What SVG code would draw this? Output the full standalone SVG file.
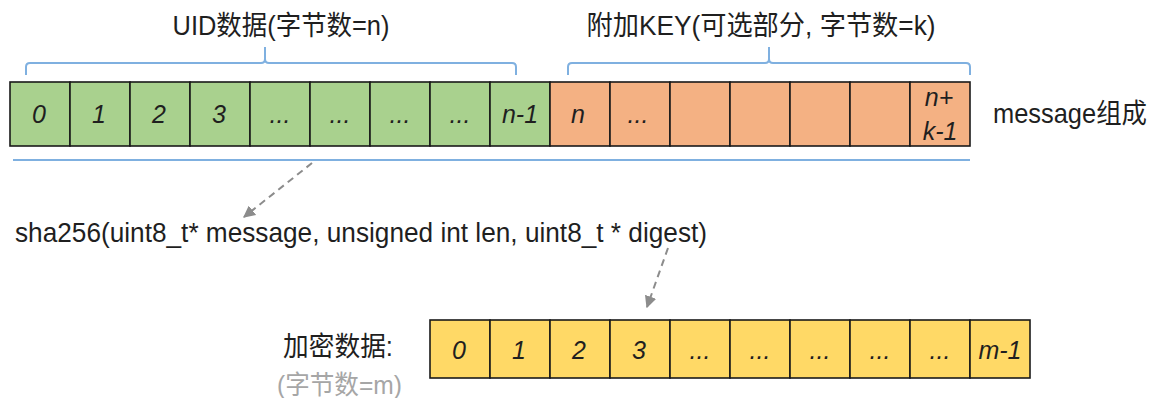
<svg xmlns="http://www.w3.org/2000/svg" width="1158" height="398" viewBox="0 0 1158 398">
<defs>
<style>
.g{fill:#a9d18e;stroke:#1a1a1a;stroke-width:1.6}
.o{fill:#f4b183;stroke:#1a1a1a;stroke-width:1.6}
.y{fill:#ffd966;stroke:#1a1a1a;stroke-width:1.6}
.c{font-family:"Liberation Sans","Noto Sans CJK SC",sans-serif;font-size:25px;font-style:italic;fill:#1f1f1f;text-anchor:middle}
.t{font-family:"Liberation Sans","Noto Sans CJK SC",sans-serif;font-size:27.5px;fill:#1f1f1f}
.br{fill:none;stroke:#7fb0e0;stroke-width:2}
.ar{fill:none;stroke:#8c8c8c;stroke-width:2;stroke-dasharray:7 5}
</style>
<marker id="ah" viewBox="0 0 10 10" refX="9" refY="5" markerWidth="6" markerHeight="6" orient="auto" markerUnits="strokeWidth">
<path d="M0,0 L10,5 L0,10 Z" fill="#8c8c8c"/>
</marker>
</defs>
<rect width="1158" height="398" fill="#ffffff"/>

<g id="labels">
<text class="t" x="281" y="35" text-anchor="middle" textLength="217" lengthAdjust="spacingAndGlyphs">UID数据(字节数=n)</text>
<text class="t" x="761" y="35" text-anchor="middle" textLength="349" lengthAdjust="spacingAndGlyphs">附加KEY(可选部分, 字节数=k)</text>
<text class="t" x="993" y="123" textLength="154" lengthAdjust="spacingAndGlyphs">message组成</text>
<text class="t" x="15" y="242" textLength="692" lengthAdjust="spacingAndGlyphs">sha256(uint8_t* message, unsigned int len, uint8_t * digest)</text>
<text class="t" x="283" y="356" textLength="110" lengthAdjust="spacingAndGlyphs">加密数据:</text>
<text class="t" x="277" y="394" style="fill:#a6a6a6;font-size:26px" textLength="125" lengthAdjust="spacingAndGlyphs">(字节数=m)</text>
</g>

<g id="brackets">
<path class="br" d="M26,75 V67 Q26,63 30,63 H261 Q265,63 265,59 V47 M265,59 Q265,63 269,63 H512 Q516,63 516,67 V75"/>
<path class="br" d="M568,75 V67 Q568,63 572,63 H765 Q769,63 769,59 V47 M769,59 Q769,63 773,63 H966 Q970,63 970,67 V75"/>
<line class="br" x1="13" y1="160" x2="970" y2="160"/>
</g>

<g id="message">
<g id="m0"><rect class="g" x="10" y="82" width="60" height="64"/><text class="c" x="39" y="123">0</text></g>
<g id="m1"><rect class="g" x="70" y="82" width="60" height="64"/><text class="c" x="99" y="123">1</text></g>
<g id="m2"><rect class="g" x="130" y="82" width="60" height="64"/><text class="c" x="159" y="123">2</text></g>
<g id="m3"><rect class="g" x="190" y="82" width="60" height="64"/><text class="c" x="219" y="123">3</text></g>
<g id="m4"><rect class="g" x="250" y="82" width="60" height="64"/><text class="c" x="280" y="123">...</text></g>
<g id="m5"><rect class="g" x="310" y="82" width="60" height="64"/><text class="c" x="340" y="123">...</text></g>
<g id="m6"><rect class="g" x="370" y="82" width="60" height="64"/><text class="c" x="400" y="123">...</text></g>
<g id="m7"><rect class="g" x="430" y="82" width="60" height="64"/><text class="c" x="460" y="123">...</text></g>
<g id="m8"><rect class="g" x="490" y="82" width="60" height="64"/><text class="c" x="520" y="123">n-1</text></g>
<g id="k0"><rect class="o" x="550" y="82" width="60" height="64"/><text class="c" x="578" y="123">n</text></g>
<g id="k1"><rect class="o" x="610" y="82" width="60" height="64"/><text class="c" x="638" y="123">...</text></g>
<g id="k2"><rect class="o" x="670" y="82" width="60" height="64"/></g>
<g id="k3"><rect class="o" x="730" y="82" width="60" height="64"/></g>
<g id="k4"><rect class="o" x="790" y="82" width="60" height="64"/></g>
<g id="k5"><rect class="o" x="850" y="82" width="60" height="64"/></g>
<g id="k6"><rect class="o" x="910" y="82" width="60" height="64"/><text class="c" x="939" y="106">n+</text><text class="c" x="940" y="140">k-1</text></g>
</g>

<g id="digest">
<g id="d0"><rect class="y" x="430" y="320" width="60" height="58"/><text class="c" x="459" y="359">0</text></g>
<g id="d1"><rect class="y" x="490" y="320" width="60" height="58"/><text class="c" x="519" y="359">1</text></g>
<g id="d2"><rect class="y" x="550" y="320" width="60" height="58"/><text class="c" x="579" y="359">2</text></g>
<g id="d3"><rect class="y" x="610" y="320" width="60" height="58"/><text class="c" x="639" y="359">3</text></g>
<g id="d4"><rect class="y" x="670" y="320" width="60" height="58"/><text class="c" x="700" y="359">...</text></g>
<g id="d5"><rect class="y" x="730" y="320" width="60" height="58"/><text class="c" x="760" y="359">...</text></g>
<g id="d6"><rect class="y" x="790" y="320" width="60" height="58"/><text class="c" x="820" y="359">...</text></g>
<g id="d7"><rect class="y" x="850" y="320" width="60" height="58"/><text class="c" x="880" y="359">...</text></g>
<g id="d8"><rect class="y" x="910" y="320" width="60" height="58"/><text class="c" x="940" y="359">...</text></g>
<g id="d9"><rect class="y" x="970" y="320" width="60" height="58"/><text class="c" x="1000" y="359">m-1</text></g>
</g>

<g id="connectors">
<line class="ar" x1="312" y1="163" x2="244" y2="217" marker-end="url(#ah)"/>
<line class="ar" x1="668" y1="248" x2="647" y2="307" marker-end="url(#ah)"/>
</g>
</svg>
